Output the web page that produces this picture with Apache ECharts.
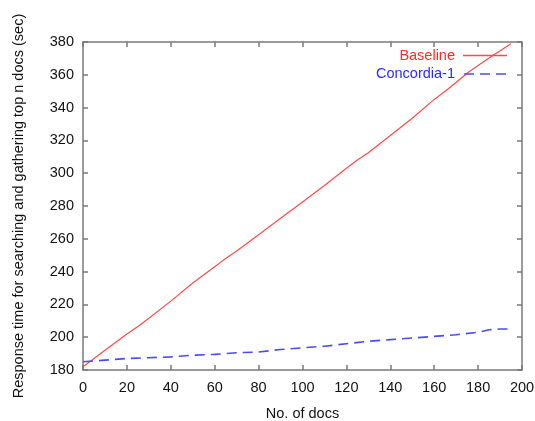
<!DOCTYPE html>
<html>
<head>
<meta charset="utf-8">
<script src="https://cdn.jsdelivr.net/npm/echarts@6/dist/echarts.min.js"></script>
<style>html,body{margin:0;padding:0;background:#fff}#c{width:535px;height:421px}</style>
</head>
<body>
<div id="c"></div>
<script>
const baselineX = [0,10,20,26,30,40,50,60,64,70,80,90,100,110,120,125,130,140,150,160,166,176,187,195];
const baselineY = [182,192,202,207.5,211.5,222,233,243,247,252.5,262.5,272.5,282.5,292.5,303,308,312.5,323,333.5,345,351,362,372,379];
const concordiaX = [0,10,20,30,40,50,60,70,80,90,100,110,120,130,140,150,160,170,180,185,190,195];
const concordiaY = [185,186,187,187.5,188,189,189.5,190.5,191,192.5,193.5,194.5,196,197.5,198.5,199.5,200.5,201.5,203,204.5,205,205];
const seriesNames = ['Baseline','Concordia-1'];
const xTicks = {min:0, max:200, step:20};
const yTicks = {min:180, max:380, step:20};

const font = 'Liberation Sans, Arial, Helvetica, sans-serif';
const fs = 14.5;
const axisColor = '#7a7a7a';
const chart = echarts.init(document.getElementById('c'));
const zip = (xs, ys) => xs.map((x,i)=>[x, ys[i]]);
const baseAxis = {
  type:'value', splitLine:{show:false},
  axisLine:{show:true, onZero:false, lineStyle:{color:axisColor, width:1.5}},
  axisTick:{show:true, inside:true, length:5, lineStyle:{color:axisColor, width:1.5}},
  axisLabel:{color:'#111', fontSize:fs, fontFamily:font}
};
chart.setOption({
  backgroundColor:'#fff',
  animation:false,
  grid:{left:83, right:13, top:42, bottom:51, containLabel:false, outerBoundsMode:'none'},
  legend:{
    orient:'vertical', right:28, top:48, align:'right', itemGap:3.5, padding:0,
    itemWidth:44, itemHeight:1.5,
    textStyle:{fontSize:fs, fontFamily:font, padding:[0,3,0,0]},
    data:[
      {name:seriesNames[0], icon:'path://M0,0H42V1.2H0Z', textStyle:{color:'#ff2a2a'}},
      {name:seriesNames[1], icon:'path://M0,0h10v1.5h-10z M16,0h10v1.5h-10z M32,0h10v1.5h-10z', textStyle:{color:'#2b2bff'}}
    ]
  },
  xAxis:[
    Object.assign({}, baseAxis, {position:'bottom', min:xTicks.min, max:xTicks.max, interval:xTicks.step,
      axisLabel:Object.assign({}, baseAxis.axisLabel, {margin:10}),
      name:'No. of docs', nameLocation:'middle', nameGap:36,
      nameTextStyle:{fontSize:fs, fontFamily:font, color:'#111'}}),
    Object.assign({}, baseAxis, {position:'top', min:xTicks.min, max:xTicks.max, interval:xTicks.step,
      axisLabel:{show:false}})
  ],
  yAxis:[
    Object.assign({}, baseAxis, {position:'left', min:yTicks.min, max:yTicks.max, interval:yTicks.step,
      axisLabel:Object.assign({}, baseAxis.axisLabel, {margin:9}),
      name:'Response time for searching and gathering top n docs (sec)', nameLocation:'middle', nameGap:57,
      nameTextStyle:{fontSize:fs, fontFamily:font, color:'#111'}}),
    Object.assign({}, baseAxis, {position:'right', min:yTicks.min, max:yTicks.max, interval:yTicks.step,
      axisLabel:{show:false}})
  ],
  series:[
    {name:seriesNames[0], type:'line', data:zip(baselineX, baselineY), showSymbol:false, symbol:'none',
     color:'#ff4a4a', lineStyle:{color:'#ff4a4a', width:1.2}},
    {name:seriesNames[1], type:'line', data:zip(concordiaX, concordiaY), showSymbol:false, symbol:'none',
     color:'#4a4aff', lineStyle:{color:'#4a4aff', width:1.6, type:[10,6]}}
  ]
});
</script>
</body>
</html>
